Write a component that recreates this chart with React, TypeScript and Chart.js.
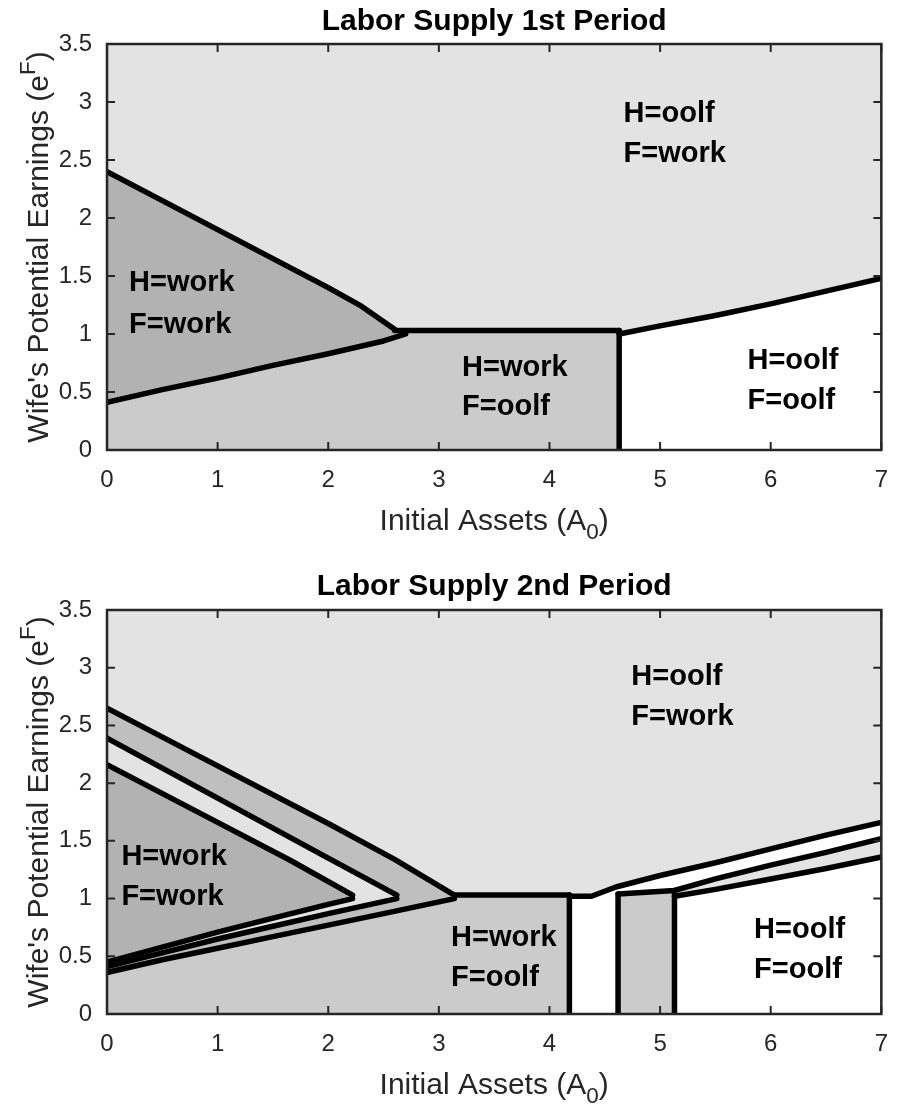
import React, { useEffect, useRef } from 'react';
import { Chart, registerables } from 'chart.js';

Chart.register(...registerables);

type Pt = [number, number];

// ---------- axes ----------
const X_TICKS = [0, 1, 2, 3, 4, 5, 6, 7];
const X_TICK_LABELS = ['0', '1', '2', '3', '4', '5', '6', '7'];
const Y_TICKS = [0, 0.5, 1, 1.5, 2, 2.5, 3, 3.5];
const Y_TICK_LABELS = ['0', '0.5', '1', '1.5', '2', '2.5', '3', '3.5'];
const X_RANGE: Pt = [0, 7];
const Y_RANGE: Pt = [0, 3.5];

// ---------- texts ----------
const TITLES = ['Labor Supply 1st Period', 'Labor Supply 2nd Period'];
const X_LABEL = ['Initial Assets (A', '0', ')'];
const Y_LABEL = ["Wife's Potential Earnings (e", 'F', ')'];
const NOTE_TEXTS = [
  ['H=oolf', 'F=work'],
  ['H=work', 'F=work'],
  ['H=work', 'F=oolf'],
  ['H=oolf', 'F=oolf'],
];

// ---------- panel 1 boundaries ----------
const P1_WW_TOP: Pt[] = [[0, 2.4], [0.5, 2.15], [1, 1.9], [1.5, 1.65], [2, 1.4], [2.3, 1.24], [2.6, 1.04]];
const P1_WW_BOTTOM: Pt[] = [[0, 0.41], [0.5, 0.52], [1, 0.62], [1.5, 0.73], [2, 0.83], [2.5, 0.94], [2.7, 1.0]];
const P1_CAP: Pt[] = [[2.6, 1.03], [4.63, 1.03]];
const P1_SPLIT: Pt[] = [[4.63, 0], [4.63, 1.03]];
const P1_OO_TOP: Pt[] = [[4.63, 1.0], [5, 1.07], [5.5, 1.16], [6, 1.26], [6.5, 1.37], [7, 1.48]];
const P1_NOTE_AT: [number, number, number][] = [[4.67, 2.9, 2.55], [0.2, 1.44, 1.08], [3.21, 0.71, 0.37], [5.79, 0.77, 0.42]];

// ---------- panel 2 boundaries ----------
const P2_C_DOWN: Pt[] = [[0, 2.65], [1, 2.15], [2, 1.65], [2.6, 1.34], [3.14, 1.03]];
const P2_B_DOWN: Pt[] = [[0, 2.39], [1, 1.87], [2, 1.35], [2.62, 1.03]];
const P2_A_DOWN: Pt[] = [[0, 2.16], [1, 1.66], [1.66, 1.33], [2.22, 1.03]];
const P2_A_UP: Pt[] = [[0, 0.45], [0.5, 0.58], [1, 0.71], [1.5, 0.83], [2, 0.95], [2.22, 1.0]];
const P2_B_UP: Pt[] = [[0, 0.41], [0.5, 0.53], [1, 0.65], [1.5, 0.76], [2, 0.87], [2.62, 1.0]];
const P2_C_UP: Pt[] = [[0, 0.36], [0.5, 0.47], [1, 0.57], [1.5, 0.67], [2, 0.77], [2.5, 0.87], [3.14, 1.0]];
const P2_CAP: Pt[] = [[3.14, 1.03], [4.18, 1.03]];
const P2_SPLIT_1: Pt[] = [[4.18, 0], [4.18, 1.03]];
const P2_SPLIT_2: Pt[] = [[4.62, 0], [4.62, 1.04]];
const P2_SPLIT_3: Pt[] = [[5.13, 0], [5.13, 1.07]];
const P2_R_TOP: Pt[] = [[4.18, 1.02], [4.38, 1.02], [4.6, 1.1], [5, 1.2], [5.5, 1.31], [6, 1.43], [6.5, 1.55], [7, 1.66]];
const P2_R_MID: Pt[] = [[4.62, 1.04], [5.13, 1.07], [5.5, 1.17], [6, 1.29], [6.5, 1.4], [7, 1.52]];
const P2_R_LOW: Pt[] = [[5.13, 1.02], [5.5, 1.08], [6, 1.17], [6.5, 1.26], [7, 1.36]];
const P2_NOTE_AT: [number, number, number][] = [[4.74, 2.92, 2.57], [0.13, 1.36, 1.01], [3.11, 0.66, 0.31], [5.85, 0.73, 0.38]];

// ---------- styles ----------
const FONT = '"Liberation Sans", Arial, Helvetica, sans-serif';
const C_LIGHT = '#e3e3e3';
const C_MID = '#cbcbcb';
const C_DARK = '#b2b2b2';
const C_BAND = '#bfbfbf';
const C_WHITE = '#ffffff';
const AXIS_COLOR = '#262626';

interface Region { pts: Pt[]; color: string }
interface PanelSpec {
  title: string;
  regions: Region[];
  lines: Pt[][];
  notes: [number, number, number][];
  height: number;
  xAxisHeight: number;
  titleBottomPad: number;
}

const rev = (a: Pt[]) => a.slice().reverse();
const fullRect: Pt[] = [[X_RANGE[0], Y_RANGE[0]], [X_RANGE[1], Y_RANGE[0]], [X_RANGE[1], Y_RANGE[1]], [X_RANGE[0], Y_RANGE[1]]];

const PANEL_1: PanelSpec = {
  title: TITLES[0],
  regions: [
    { pts: fullRect, color: C_LIGHT },
    { pts: [[0, 0], [P1_SPLIT[0][0], 0], P1_SPLIT[1], [0, P1_CAP[0][1]]], color: C_MID },
    { pts: [...P1_WW_TOP, ...rev(P1_WW_BOTTOM)], color: C_DARK },
    { pts: [[P1_OO_TOP[0][0], 0], [X_RANGE[1], 0], ...rev(P1_OO_TOP)], color: C_WHITE },
  ],
  lines: [P1_WW_TOP, P1_WW_BOTTOM, P1_CAP, P1_SPLIT, P1_OO_TOP],
  notes: P1_NOTE_AT,
  height: 565,
  xAxisHeight: 115,
  titleBottomPad: 4,
};

const PANEL_2: PanelSpec = {
  title: TITLES[1],
  regions: [
    { pts: fullRect, color: C_LIGHT },
    { pts: [[0, 0], [P2_SPLIT_1[0][0], 0], P2_SPLIT_1[1], [0, P2_CAP[0][1]]], color: C_MID },
    { pts: [...P2_C_DOWN, ...rev(P2_C_UP)], color: C_BAND },
    { pts: [...P2_B_DOWN, ...rev(P2_B_UP)], color: C_LIGHT },
    { pts: [...P2_A_DOWN, ...rev(P2_A_UP)], color: C_DARK },
    { pts: [[P2_SPLIT_1[0][0], 0], [P2_SPLIT_2[0][0], 0], ...P2_R_MID, ...rev(P2_R_TOP)], color: C_WHITE },
    { pts: [[P2_SPLIT_2[0][0], 0], [P2_SPLIT_3[0][0], 0], P2_SPLIT_3[1], P2_SPLIT_2[1]], color: C_MID },
    { pts: [[P2_SPLIT_3[0][0], 0], [X_RANGE[1], 0], ...rev(P2_R_LOW)], color: C_WHITE },
  ],
  lines: [P2_C_DOWN, P2_B_DOWN, P2_A_DOWN, P2_A_UP, P2_B_UP, P2_C_UP, P2_CAP, P2_SPLIT_1, P2_SPLIT_2, P2_SPLIT_3, P2_R_TOP, P2_R_MID, P2_R_LOW],
  notes: P2_NOTE_AT,
  height: 549,
  xAxisHeight: 100,
  titleBottomPad: 5,
};

type Part = { t: string; scale: number; dy: number };

function drawRich(ctx: CanvasRenderingContext2D, parts: Part[], size: number) {
  const widths = parts.map((p) => {
    ctx.font = `${size * p.scale}px ${FONT}`;
    return ctx.measureText(p.t).width;
  });
  const total = widths.reduce((a, b) => a + b, 0);
  let x = -total / 2;
  parts.forEach((p, i) => {
    ctx.font = `${size * p.scale}px ${FONT}`;
    ctx.fillText(p.t, x, p.dy * size);
    x += widths[i];
  });
}

function makeDecor(spec: PanelSpec) {
  return {
    id: 'decor',
    afterDatasetsDraw(chart: any) {
      const { ctx, chartArea: a, scales } = chart;
      const xs = scales.x;
      const ys = scales.y;
      const TICK = 8;
      ctx.save();
      // box
      ctx.strokeStyle = AXIS_COLOR;
      ctx.lineWidth = 2.5;
      ctx.strokeRect(a.left, a.top, a.right - a.left, a.bottom - a.top);
      // inward ticks
      ctx.lineWidth = 2;
      ctx.beginPath();
      X_TICKS.forEach((v) => {
        const px = xs.getPixelForValue(v);
        ctx.moveTo(px, a.bottom);
        ctx.lineTo(px, a.bottom - TICK);
        ctx.moveTo(px, a.top);
        ctx.lineTo(px, a.top + TICK);
      });
      Y_TICKS.forEach((v) => {
        const py = ys.getPixelForValue(v);
        ctx.moveTo(a.left, py);
        ctx.lineTo(a.left + TICK, py);
        ctx.moveTo(a.right, py);
        ctx.lineTo(a.right - TICK, py);
      });
      ctx.stroke();
      // region notes
      ctx.fillStyle = '#000';
      ctx.font = `bold 29px ${FONT}`;
      ctx.textAlign = 'left';
      ctx.textBaseline = 'middle';
      spec.notes.forEach(([nx, y1, y2], i) => {
        const px = xs.getPixelForValue(nx);
        ctx.fillText(NOTE_TEXTS[i][0], px, ys.getPixelForValue(y1));
        ctx.fillText(NOTE_TEXTS[i][1], px, ys.getPixelForValue(y2));
      });
      // axis titles
      ctx.fillStyle = AXIS_COLOR;
      ctx.textAlign = 'left';
      ctx.textBaseline = 'alphabetic';
      const size = 30;
      ctx.save();
      ctx.translate((a.left + a.right) / 2, a.bottom + 80);
      drawRich(ctx, [
        { t: X_LABEL[0], scale: 1, dy: 0 },
        { t: X_LABEL[1], scale: 0.75, dy: 0.3 },
        { t: X_LABEL[2], scale: 1, dy: 0 },
      ], size);
      ctx.restore();
      ctx.save();
      ctx.translate(48, (a.top + a.bottom) / 2);
      ctx.rotate(-Math.PI / 2);
      drawRich(ctx, [
        { t: Y_LABEL[0], scale: 1, dy: 0 },
        { t: Y_LABEL[1], scale: 0.75, dy: -0.45 },
        { t: Y_LABEL[2], scale: 1, dy: 0 },
      ], size);
      ctx.restore();
      ctx.restore();
    },
  };
}

function buildConfig(spec: PanelSpec): any {
  const datasets: any[] = [];
  spec.regions.forEach((r, i) => {
    datasets.push({
      data: r.pts.map(([x, y]) => ({ x, y })),
      backgroundColor: r.color,
      borderColor: 'rgba(0,0,0,0)',
      borderWidth: 0,
      fill: 'shape',
      pointRadius: 0,
      tension: 0,
      order: 100 - i,
    });
  });
  spec.lines.forEach((l) => {
    datasets.push({
      data: l.map(([x, y]) => ({ x, y })),
      borderColor: '#000',
      borderWidth: 5.5,
      borderJoinStyle: 'round',
      borderCapStyle: 'round',
      fill: false,
      pointRadius: 0,
      tension: 0,
      order: 0,
    });
  });
  const tickFont = { family: FONT, size: 24 };
  return {
    type: 'line',
    data: { datasets },
    options: {
      responsive: false,
      animation: false,
      devicePixelRatio: 1,
      events: [],
      layout: { padding: { left: 0, right: 10, top: 0, bottom: 0 } },
      plugins: {
        legend: { display: false },
        tooltip: { enabled: false },
        title: {
          display: true,
          fullSize: false,
          text: spec.title,
          color: '#000',
          font: { family: FONT, size: 30, weight: 'bold' },
          padding: { top: 4, bottom: spec.titleBottomPad },
        },
      },
      scales: {
        x: {
          type: 'linear',
          min: X_RANGE[0],
          max: X_RANGE[1],
          afterBuildTicks: (s: any) => { s.ticks = X_TICKS.map((v) => ({ value: v })); },
          ticks: {
            font: tickFont,
            color: AXIS_COLOR,
            padding: 16,
            maxRotation: 0,
            autoSkip: false,
            callback: (_v: any, i: number) => X_TICK_LABELS[i],
          },
          grid: { display: false, drawTicks: false },
          border: { display: false },
          afterFit: (s: any) => { s.height = spec.xAxisHeight; },
        },
        y: {
          type: 'linear',
          min: Y_RANGE[0],
          max: Y_RANGE[1],
          afterBuildTicks: (s: any) => { s.ticks = Y_TICKS.map((v) => ({ value: v })); },
          ticks: {
            font: tickFont,
            color: AXIS_COLOR,
            padding: 15,
            autoSkip: false,
            callback: (_v: any, i: number) => Y_TICK_LABELS[i],
          },
          grid: { display: false, drawTicks: false },
          border: { display: false },
          afterFit: (s: any) => { s.width = 107; },
        },
      },
    },
    plugins: [makeDecor(spec)],
  };
}

function Panel({ spec }: { spec: PanelSpec }) {
  const ref = useRef<HTMLCanvasElement>(null);
  useEffect(() => {
    if (!ref.current) return;
    const chart = new Chart(ref.current, buildConfig(spec));
    return () => chart.destroy();
  }, [spec]);
  return <canvas ref={ref} width={904} height={spec.height} style={{ display: 'block' }} />;
}

export default function App() {
  return (
    <div style={{ position: 'absolute', left: 0, top: 0, width: 904, height: 1114, background: '#fff' }}>
      <Panel spec={PANEL_1} />
      <Panel spec={PANEL_2} />
    </div>
  );
}
